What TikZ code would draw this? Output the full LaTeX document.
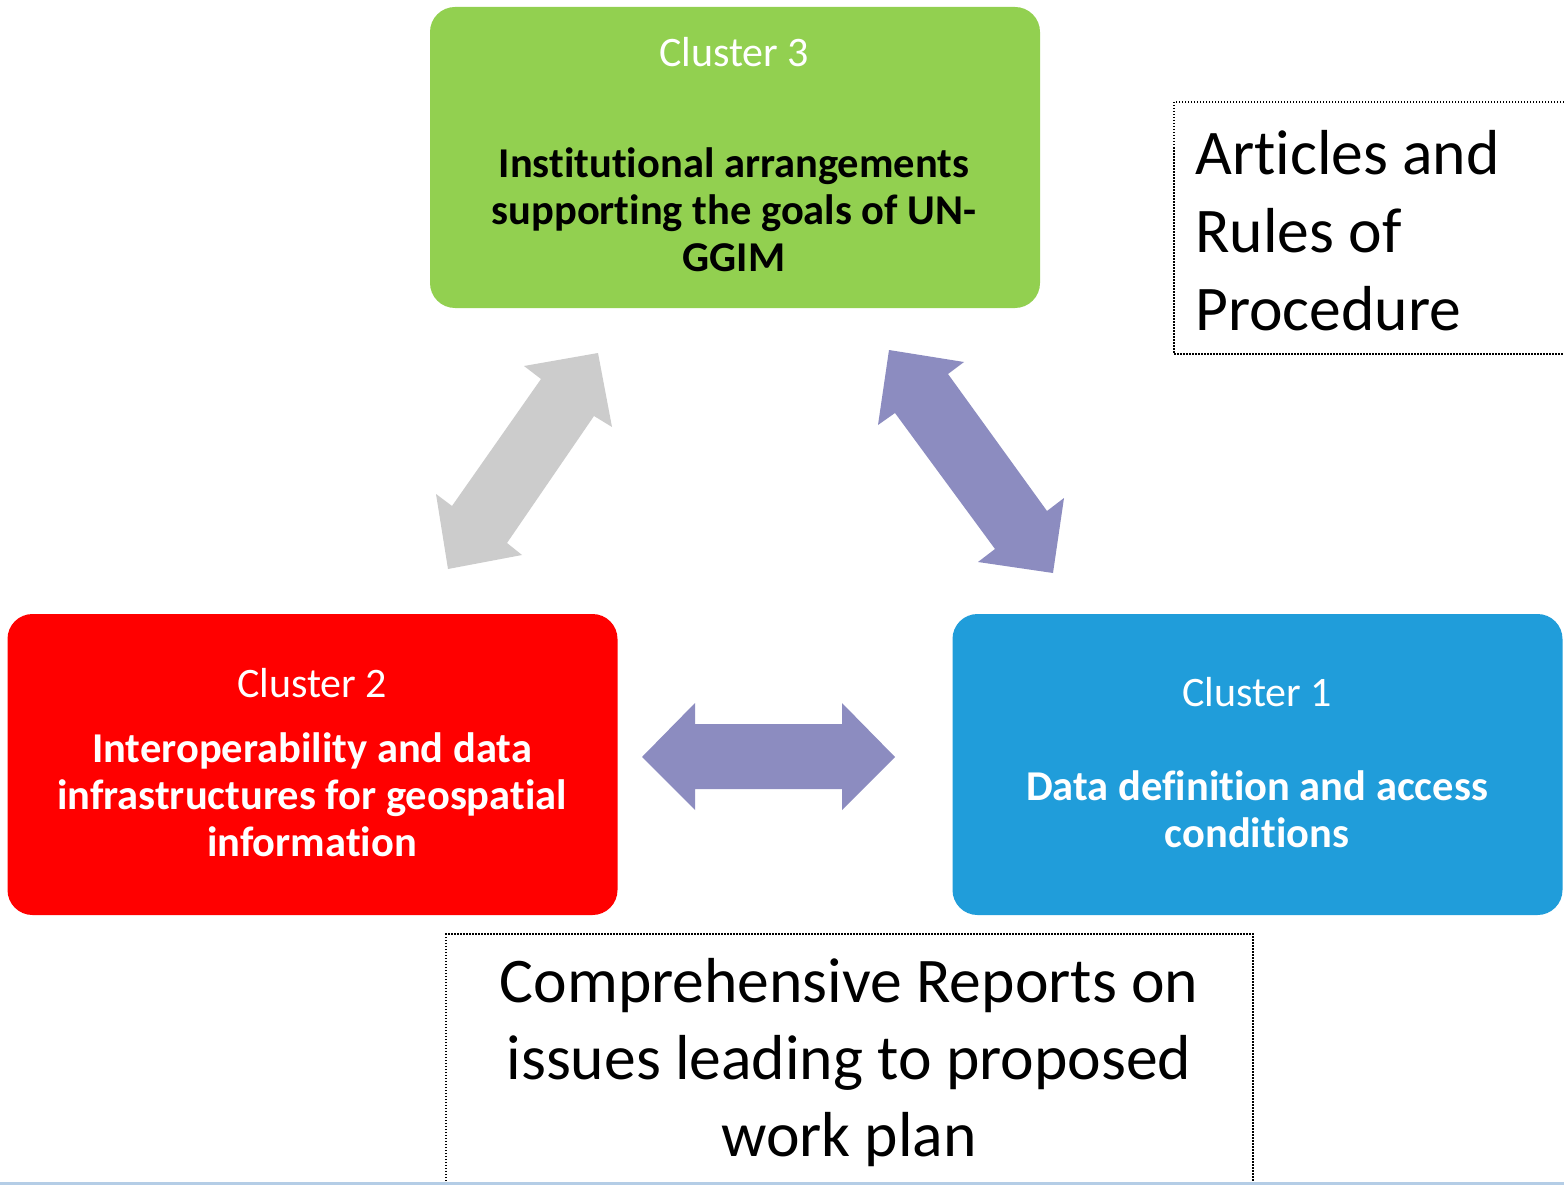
\documentclass[tikz,border=0pt]{standalone}
\usepackage{fontspec}
\setmainfont{Carlito}[Ligatures=NoCommon]
\definecolor{cgreen}{RGB}{146,208,80}
\definecolor{cred}{RGB}{255,0,0}
\definecolor{cblue}{RGB}{32,157,218}
\definecolor{cpurple}{RGB}{140,140,192}
\definecolor{cgray}{RGB}{204,204,204}
\definecolor{cline}{RGB}{180,205,230}
\tikzset{
  clusterbox/.style={rounded corners=25pt, inner sep=0pt, minimum width=610pt, minimum height=301pt},
  title/.style={anchor=base, inner sep=0pt, font=\fontsize{42}{47}\selectfont},
  bodytext/.style={anchor=base, inner sep=0pt, font=\fontsize{42.5}{47}\selectfont\bfseries},
  bigtext/.style={anchor=base west, inner sep=0pt, font=\fontsize{63.6}{77}\selectfont},
  dotbox/.style={line width=1.5pt, dash pattern=on 1.5pt off 1.5pt},
  blockarrow/.style={draw=none}
}
\begin{document}
\begin{tikzpicture}[x=1pt,y=-1pt]
\useasboundingbox (0,0) rectangle (1564,1185);
\fill[white] (0,0) rectangle (1564,1185);

% cluster boxes
\node[clusterbox, fill=cgreen] (c3) at (735,157.5) {};
\node[clusterbox, fill=cred] (c2) at (312.5,764.5) {};
\node[clusterbox, fill=cblue] (c1) at (1257.5,764.5) {};

% Cluster 3 text
\node[title, text=white] (c3t) at (734,67) {Cluster 3};
\node[bodytext, text=black] (c3a) at (734,178) {Institutional arrangements};
\node[bodytext, text=black] (c3b) at (734,225) {supporting the goals of UN-};
\node[bodytext, text=black] (c3c) at (734,272) {GGIM};

% Cluster 2 text
\node[title, text=white] (c2t) at (312,697) {Cluster 2};
\node[bodytext, text=white] (c2a) at (312,762) {Interoperability and data};
\node[bodytext, text=white] (c2b) at (312,809) {infrastructures for geospatial};
\node[bodytext, text=white] (c2c) at (312,856) {information};

% Cluster 1 text
\node[title, text=white] (c1t) at (1257,706) {Cluster 1};
\node[bodytext, text=white] (c1a) at (1257,800) {Data definition and access};
\node[bodytext, text=white] (c1b) at (1257,847) {conditions};

% block arrows
\fill[cgray, blockarrow] (598,353) -- (612,427) -- (594,416) -- (507,543) -- (522,555)
  -- (448,569) -- (436,494) -- (452,506) -- (541,379) -- (524,366) -- cycle;
\fill[cpurple, blockarrow] (889,350) -- (964,362) -- (948,374) -- (1047,511) -- (1064,498)
  -- (1053,573) -- (978,562) -- (995,549) -- (895,413) -- (878,425) -- cycle;
\fill[cpurple, blockarrow] (642,757) -- (695,703) -- (695,724) -- (842,724) -- (842,703)
  -- (895,757) -- (842,810) -- (842,789) -- (695,789) -- (695,810) -- cycle;

% Articles box
\draw[dotbox] (1570,102) -- (1174,102) -- (1174,354) -- (1570,354);
\node[bigtext] (art1) at (1195,175) {Articles and};
\node[bigtext] (art2) at (1195,253) {Rules of};
\node[bigtext] (art3) at (1195,330) {Procedure};

% Comprehensive box
\draw[dotbox] (446,1190) -- (446,934) -- (1253,934) -- (1253,1190);
\node[bigtext, anchor=base] (rep1) at (849,1002) {Comprehensive Reports on};
\node[bigtext, anchor=base] (rep2) at (849,1079) {issues leading to proposed};
\node[bigtext, anchor=base] (rep3) at (849,1156) {work plan};

% bottom frame line
\draw[cline, line width=3pt] (0,1183.5) -- (1564,1183.5);
\end{tikzpicture}
\end{document}
